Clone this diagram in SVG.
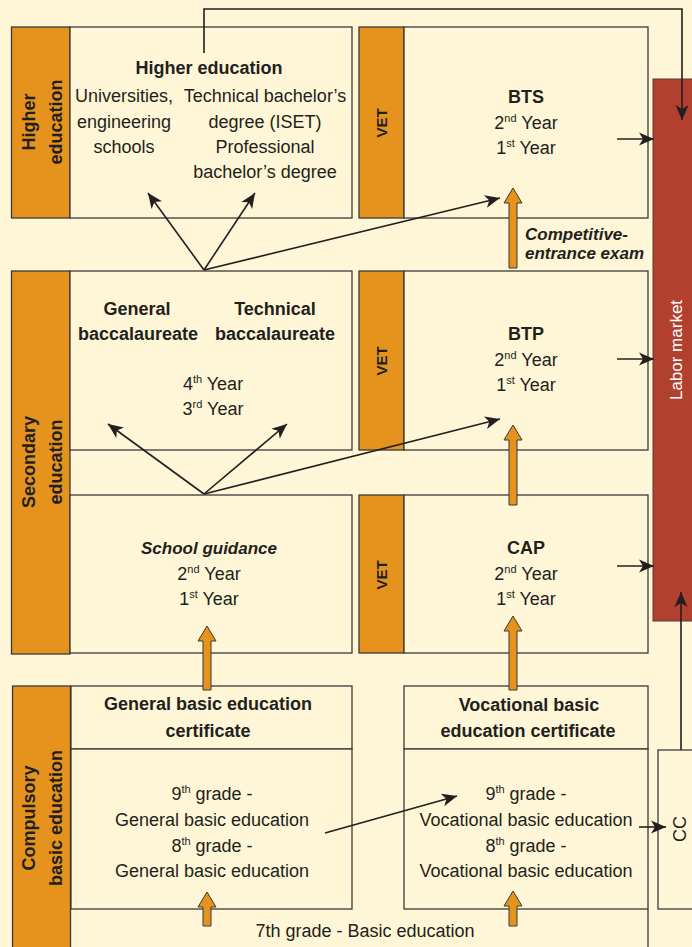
<svg xmlns="http://www.w3.org/2000/svg" width="692" height="947" viewBox="0 0 692 947">
<style>
text{font-family:"Liberation Sans",Arial,sans-serif;fill:#231f20;font-size:18px}
.b{font-weight:bold}
.bi{font-weight:bold;font-style:italic;font-size:17px}
.m{text-anchor:middle}
.bar{fill:#e5931d;stroke:#3a3a3a;stroke-width:1.3}
.box{fill:#fef6d6;stroke:#3a3a3a;stroke-width:1.3}
.ln{fill:none;stroke:#231f20;stroke-width:1.6}
.oa{fill:#e5931d;stroke:#3a3a3a;stroke-width:1}
.sup{font-size:11px}
.vet{font-weight:bold;font-size:15px;text-anchor:middle}
</style>
<defs>
<marker id="ah" markerUnits="userSpaceOnUse" markerWidth="16" markerHeight="14" refX="15" refY="7" orient="auto">
<path d="M0,0.5 L15,7 L0,13.5 L4,7 Z" fill="#231f20"/>
</marker>
</defs>
<rect width="692" height="947" fill="#fef6d6"/>

<g id="labor-market">
<rect x="653" y="79" width="45" height="542" fill="#b2402e" stroke="#5a3a30" stroke-width="1"/>
<text transform="translate(682,350) rotate(-90)" class="m" style="fill:#ffffff;font-size:17px">Labor market</text>
</g>

<g id="higher-education">
<rect class="bar" x="11.5" y="27" width="58.5" height="191"/>
<text transform="translate(35,122) rotate(-90)" class="b m">Higher</text>
<text transform="translate(62,122) rotate(-90)" class="b m">education</text>
<rect class="box" x="70" y="27" width="282" height="191"/>
<text x="209" y="74" class="b m">Higher education</text>
<text x="124" y="102" class="m">Universities,</text>
<text x="124" y="128" class="m">engineering</text>
<text x="124" y="153" class="m">schools</text>
<text x="265" y="102" class="m">Technical bachelor’s</text>
<text x="265" y="128" class="m">degree (ISET)</text>
<text x="265" y="153" class="m">Professional</text>
<text x="265" y="178" class="m">bachelor’s degree</text>
</g>

<g id="bts">
<rect class="bar" x="359" y="27" width="45" height="191"/>
<text transform="translate(387,123) rotate(-90)" class="vet">VET</text>
<rect class="box" x="404" y="27" width="244" height="191"/>
<text x="526" y="103" class="b m">BTS</text>
<text x="526" y="129" class="m">2<tspan class="sup" dy="-7">nd</tspan><tspan dy="7"> Year</tspan></text>
<text x="526" y="154" class="m">1<tspan class="sup" dy="-7">st</tspan><tspan dy="7"> Year</tspan></text>
</g>

<g id="secondary-education">
<rect class="bar" x="11.5" y="271" width="58.5" height="383"/>
<text transform="translate(35,462) rotate(-90)" class="b m">Secondary</text>
<text transform="translate(62,462) rotate(-90)" class="b m">education</text>
<rect class="box" x="70" y="271" width="282" height="179"/>
<text x="137" y="315" class="b m">General</text>
<text x="138" y="340" class="b m">baccalaureate</text>
<text x="275" y="315" class="b m">Technical</text>
<text x="275" y="340" class="b m">baccalaureate</text>
<text x="213" y="390" class="m">4<tspan class="sup" dy="-7">th</tspan><tspan dy="7"> Year</tspan></text>
<text x="213" y="415" class="m">3<tspan class="sup" dy="-7">rd</tspan><tspan dy="7"> Year</tspan></text>
</g>

<g id="school-guidance">
<rect class="box" x="70" y="495" width="282" height="158"/>
<text x="209" y="554" class="bi m">School guidance</text>
<text x="209" y="580" class="m">2<tspan class="sup" dy="-7">nd</tspan><tspan dy="7"> Year</tspan></text>
<text x="209" y="605" class="m">1<tspan class="sup" dy="-7">st</tspan><tspan dy="7"> Year</tspan></text>
</g>

<g id="btp">
<rect class="bar" x="359" y="271" width="45" height="179"/>
<text transform="translate(387,361) rotate(-90)" class="vet">VET</text>
<rect class="box" x="404" y="271" width="244" height="179"/>
<text x="526" y="340" class="b m">BTP</text>
<text x="526" y="366" class="m">2<tspan class="sup" dy="-7">nd</tspan><tspan dy="7"> Year</tspan></text>
<text x="526" y="391" class="m">1<tspan class="sup" dy="-7">st</tspan><tspan dy="7"> Year</tspan></text>
</g>

<g id="cap">
<rect class="bar" x="359" y="495" width="45" height="158"/>
<text transform="translate(387,575) rotate(-90)" class="vet">VET</text>
<rect class="box" x="404" y="495" width="244" height="158"/>
<text x="526" y="554" class="b m">CAP</text>
<text x="526" y="580" class="m">2<tspan class="sup" dy="-7">nd</tspan><tspan dy="7"> Year</tspan></text>
<text x="526" y="605" class="m">1<tspan class="sup" dy="-7">st</tspan><tspan dy="7"> Year</tspan></text>
</g>

<g id="competitive-exam">
<text x="525" y="240" class="bi">Competitive-</text>
<text x="525" y="259" class="bi">entrance exam</text>
</g>

<g id="compulsory-basic-education">
<rect class="bar" x="12.5" y="686" width="58" height="270"/>
<text transform="translate(35,818) rotate(-90)" class="b m">Compulsory</text>
<text transform="translate(62,818) rotate(-90)" class="b m">basic education</text>
<text x="365" y="937" class="m">7th grade - Basic education</text>
<line x1="648" y1="909" x2="648" y2="947" stroke="#3a3a3a" stroke-width="1.3"/>
</g>

<g id="general-basic">
<rect class="box" x="71" y="686" width="281" height="63"/>
<text x="208" y="710" class="b m">General basic education</text>
<text x="208" y="737" class="b m">certificate</text>
<rect class="box" x="71" y="749" width="281" height="160"/>
<text x="212" y="800" class="m">9<tspan class="sup" dy="-7">th</tspan><tspan dy="7"> grade -</tspan></text>
<text x="212" y="826" class="m">General basic education</text>
<text x="212" y="852" class="m">8<tspan class="sup" dy="-7">th</tspan><tspan dy="7"> grade -</tspan></text>
<text x="212" y="877" class="m">General basic education</text>
</g>

<g id="vocational-basic">
<rect class="box" x="404" y="686" width="244" height="63"/>
<text x="529" y="711" class="b m">Vocational basic</text>
<text x="528" y="737" class="b m">education certificate</text>
<rect class="box" x="404" y="749" width="244" height="160"/>
<text x="526" y="800" class="m">9<tspan class="sup" dy="-7">th</tspan><tspan dy="7"> grade -</tspan></text>
<text x="526" y="826" class="m">Vocational basic education</text>
<text x="526" y="852" class="m">8<tspan class="sup" dy="-7">th</tspan><tspan dy="7"> grade -</tspan></text>
<text x="526" y="877" class="m">Vocational basic education</text>
</g>

<g id="cc">
<rect class="box" x="658" y="750" width="45" height="159" stroke="#6a6a6a"/>
<text transform="translate(686,829) rotate(-90)" class="m">CC</text>
</g>

<g id="connectors">
<path class="ln" d="M204,53 V9 H682 V120" marker-end="url(#ah)"/>
<path class="ln" d="M617,139 H654" marker-end="url(#ah)"/>
<path class="ln" d="M617,359 H654" marker-end="url(#ah)"/>
<path class="ln" d="M617,566 H654" marker-end="url(#ah)"/>
<path class="ln" d="M681,750 V592" marker-end="url(#ah)"/>
<path class="ln" d="M639,827 H666" marker-end="url(#ah)"/>
<path class="ln" d="M204,270 L148,193" marker-end="url(#ah)"/>
<path class="ln" d="M204,270 L255,193" marker-end="url(#ah)"/>
<path class="ln" d="M204,270 L500,198" marker-end="url(#ah)"/>
<path class="ln" d="M204,494 L108,424" marker-end="url(#ah)"/>
<path class="ln" d="M204,494 L287,424" marker-end="url(#ah)"/>
<path class="ln" d="M204,494 L500,419" marker-end="url(#ah)"/>
<path class="ln" d="M325,833 L457,796" marker-end="url(#ah)"/>
<polygon class="oa" points="509,268 509,203 504,203 513,188 522,203 517,203 517,268"/>
<polygon class="oa" points="509,505 509,440 504,440 513,425 522,440 517,440 517,505"/>
<polygon class="oa" points="509,690 509,631 504,631 513,616 522,631 517,631 517,690"/>
<polygon class="oa" points="203,690 203,641 198,641 207,626 216,641 211,641 211,690"/>
<polygon class="oa" points="203,926 203,907 198,907 207,892 216,907 211,907 211,926"/>
<polygon class="oa" points="509,926 509,906 504,906 513,891 522,906 517,906 517,926"/>
</g>
</svg>
